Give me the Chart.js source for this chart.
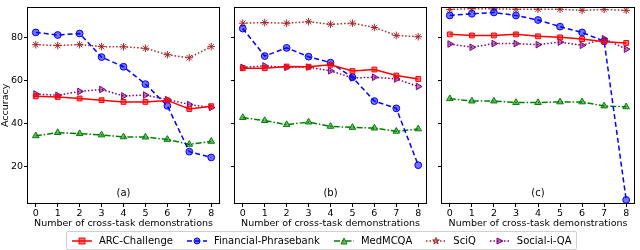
<!DOCTYPE html>
<html>
<head>
<meta charset="utf-8">
<script src="https://cdn.jsdelivr.net/npm/chart.js@4"></script>
<style>
  body { margin: 0; background: #fff; width: 640px; height: 250px; position: relative; overflow: hidden; font-family: "DejaVu Sans", sans-serif; }
  canvas.panel { position: absolute; top: 0; }
  #legend { position: absolute; left: 66px; top: 231px; height: 17px; border: 1px solid #d0d0d0; border-radius: 2px;
            display: flex; align-items: center; padding: 0 4px 0 5px; font-size: 10px; color: #000; white-space: nowrap; }
  #legend .item { display: flex; align-items: center; margin-right: 14px; }
  #legend .item:last-child { margin-right: 0; }
  #legend canvas { margin-right: 7px; }
</style>
</head>
<body>
<canvas id="pa" class="panel"></canvas>
<canvas id="pb" class="panel"></canvas>
<canvas id="pc" class="panel"></canvas>
<div id="legend"></div>

<script>
// x: number of cross-task demonstrations
const demos = [0, 1, 2, 3, 4, 5, 6, 7, 8];
const yTicks = [20, 40, 60, 80];
const seriesNames = ['ARC-Challenge', 'Financial-Phrasebank', 'MedMCQA', 'SciQ', 'Social-i-QA'];

// panel (a)
const arcA = [52.5, 52.2, 51.5, 50.7, 49.9, 49.9, 50.6, 46.6, 47.9];
const finA = [82.3, 81.1, 81.8, 70.8, 66.3, 58.2, 48.1, 26.7, 24.0];
const medA = [34.1, 35.6, 35.1, 34.5, 33.6, 33.5, 32.4, 30.1, 31.5];
const sciA = [76.6, 76.2, 76.6, 75.7, 75.6, 74.9, 71.9, 70.5, 75.7];
const socA = [53.6, 53.0, 54.8, 55.7, 52.7, 53.1, 51.0, 48.7, 47.3];

// panel (b)
const arcB = [65.6, 65.6, 66.4, 66.3, 67.2, 64.3, 65.0, 62.2, 60.6];
const finB = [84.1, 71.3, 75.1, 71.0, 68.2, 61.4, 50.3, 46.9, 20.4];
const medB = [42.6, 41.2, 39.3, 40.5, 38.5, 38.0, 37.7, 36.2, 37.3];
const sciB = [86.6, 86.9, 86.6, 87.3, 86.1, 86.6, 84.6, 80.9, 80.3];
const socB = [66.0, 66.7, 66.0, 66.1, 64.4, 61.1, 61.4, 60.6, 57.1];

// panel (c)
const arcC = [81.4, 80.9, 80.9, 81.4, 80.5, 80.0, 79.2, 78.0, 77.4];
const finC = [90.2, 91.0, 91.6, 90.2, 88.1, 85.0, 82.3, 78.2, 4.2];
const medC = [51.4, 50.3, 50.3, 49.6, 49.6, 49.9, 49.9, 48.0, 47.6];
const sciC = [93.0, 93.4, 93.3, 93.1, 93.1, 93.1, 92.6, 93.0, 92.6];
const socC = [76.9, 75.4, 77.1, 77.1, 76.6, 77.8, 76.3, 79.4, 74.5];

const styles = [
    { color: 'rgb(255,0,0)',   fill: 'rgba(255,0,0,0.55)',   dash: [],        point: 'rect',     rot: 0,  r: 3.4 },
    { color: 'rgb(0,0,255)',   fill: 'rgba(0,0,255,0.55)',   dash: [5, 3],    point: 'circle',   rot: 0,  r: 3.4 },
    { color: 'rgb(0,128,0)',   fill: 'rgba(0,128,0,0.55)',   dash: [6, 2, 1.5, 2], point: 'triangle', rot: 0, r: 3.8 },
    { color: 'rgb(165,42,42)', fill: 'rgba(165,42,42,0.55)', dash: [1.5, 2],  point: 'star',     rot: 0,  r: 3.8 },
    { color: 'rgb(128,0,128)', fill: 'rgba(128,0,128,0.55)', dash: [1.5, 2],  point: 'triangle', rot: 90, r: 3.8 }
];

const FONT = '"DejaVu Sans", sans-serif';
const FS = 9.5;

function makeSets(lists) {
    return lists.map((vals, i) => ({
        label: seriesNames[i],
        data: demos.map((d, k) => ({ x: d, y: vals[k] })),
        borderColor: styles[i].color,
        backgroundColor: styles[i].fill,
        borderWidth: 1.5,
        borderDash: styles[i].dash,
        pointStyle: styles[i].point,
        pointRotation: styles[i].rot,
        pointRadius: styles[i].r,
        pointBorderWidth: 1,
        pointBorderColor: styles[i].color,
        pointBackgroundColor: styles[i].fill,
        tension: 0
    }));
}

// full box around the plot area + the (a)/(b)/(c) label
const framePlugin = {
    id: 'frame',
    afterDraw(chart, args, opts) {
        const ctx = chart.ctx;
        const a = chart.chartArea;
        ctx.save();
        ctx.strokeStyle = '#000';
        ctx.lineWidth = 1;
        ctx.strokeRect(Math.round(a.left) + 0.5, Math.round(a.top) + 0.5,
                       Math.round(a.right - a.left) - 1, Math.round(a.bottom - a.top) - 1);
        ctx.fillStyle = '#000';
        ctx.font = '10px ' + FONT;
        ctx.textAlign = 'center';
        ctx.textBaseline = 'middle';
        ctx.fillText(opts.label, (a.left + a.right) / 2, a.bottom - 11);
        ctx.restore();
    }
};

function makePanel(id, left, width, yWidth, label, lists, showY) {
    const cv = document.getElementById(id);
    cv.style.left = left + 'px';
    cv.width = width;
    cv.height = 232;
    cv.style.width = width + 'px';
    cv.style.height = '232px';

    return new Chart(cv, {
        type: 'line',
        data: { datasets: makeSets(lists) },
        options: {
            responsive: false,
            animation: false,
            devicePixelRatio: 1,
            layout: { padding: { top: 3, right: 0, bottom: 0, left: 0 } },
            plugins: {
                legend: { display: false },
                tooltip: { enabled: false },
                frame: { label: label }
            },
            scales: {
                x: {
                    type: 'linear',
                    min: -0.4,
                    max: 8.4,
                    afterBuildTicks: s => { s.ticks = demos.map(v => ({ value: v })); },
                    afterFit: s => { s.height = 28; },
                    grid: { display: true, drawOnChartArea: false, drawTicks: true, tickLength: 3, color: '#000' },
                    border: { display: false },
                    ticks: { color: '#000', padding: 1, font: { family: FONT, size: FS } },
                    title: { display: true, text: 'Number of cross-task demonstrations', color: '#000',
                             padding: { top: 0, bottom: 3 }, font: { family: FONT, size: FS } }
                },
                y: {
                    min: 2.3,
                    max: 94.3,
                    afterBuildTicks: s => { s.ticks = yTicks.map(v => ({ value: v })); },
                    afterFit: s => { s.width = yWidth; },
                    grid: { display: true, drawOnChartArea: false, drawTicks: true, tickLength: 3, color: '#000' },
                    border: { display: false },
                    ticks: { color: '#000', padding: 1, font: { family: FONT, size: FS },
                             callback: v => showY ? v : '' },
                    title: { display: showY, text: 'Accuracy', color: '#000', padding: 0,
                             font: { family: FONT, size: FS } }
                }
            }
        },
        plugins: [framePlugin]
    });
}

makePanel('pa', 0, 225, 27, '(a)', [arcA, finA, medA, sciA, socA], true);
makePanel('pb', 226, 206, 8, '(b)', [arcB, finB, medB, sciB, socB], false);
makePanel('pc', 433, 207, 8, '(c)', [arcC, finC, medC, sciC, socC], false);

// legend row under the panels
const legend = document.getElementById('legend');
seriesNames.forEach((name, i) => {
    const st = styles[i];
    const item = document.createElement('div');
    item.className = 'item';
    const c = document.createElement('canvas');
    c.width = 20; c.height = 10;
    const g = c.getContext('2d');
    g.strokeStyle = st.color;
    g.lineWidth = 1.5;
    g.setLineDash(st.dash);
    g.beginPath(); g.moveTo(0, 5); g.lineTo(20, 5); g.stroke();
    g.setLineDash([]);
    g.lineWidth = 1;
    g.fillStyle = st.fill;
    const cx = 10, cy = 5, r = 3;
    g.beginPath();
    if (st.point === 'rect') { g.rect(cx - r, cy - r, 2 * r, 2 * r); }
    else if (st.point === 'circle') { g.arc(cx, cy, r, 0, Math.PI * 2); }
    else if (st.point === 'triangle' && st.rot === 0) { g.moveTo(cx, cy - r); g.lineTo(cx + r, cy + r); g.lineTo(cx - r, cy + r); g.closePath(); }
    else if (st.point === 'triangle') { g.moveTo(cx + r, cy); g.lineTo(cx - r, cy - r); g.lineTo(cx - r, cy + r); g.closePath(); }
    else {
        for (let k = 0; k < 10; k++) {
            const rr = k % 2 ? r * 0.45 : r + 0.5;
            const ang = -Math.PI / 2 + k * Math.PI / 5;
            const px = cx + rr * Math.cos(ang), py = cy + rr * Math.sin(ang);
            if (k === 0) g.moveTo(px, py); else g.lineTo(px, py);
        }
        g.closePath();
    }
    g.fill(); g.stroke();
    const t = document.createElement('span');
    t.textContent = name;
    item.appendChild(c);
    item.appendChild(t);
    legend.appendChild(item);
});
</script>
</body>
</html>
